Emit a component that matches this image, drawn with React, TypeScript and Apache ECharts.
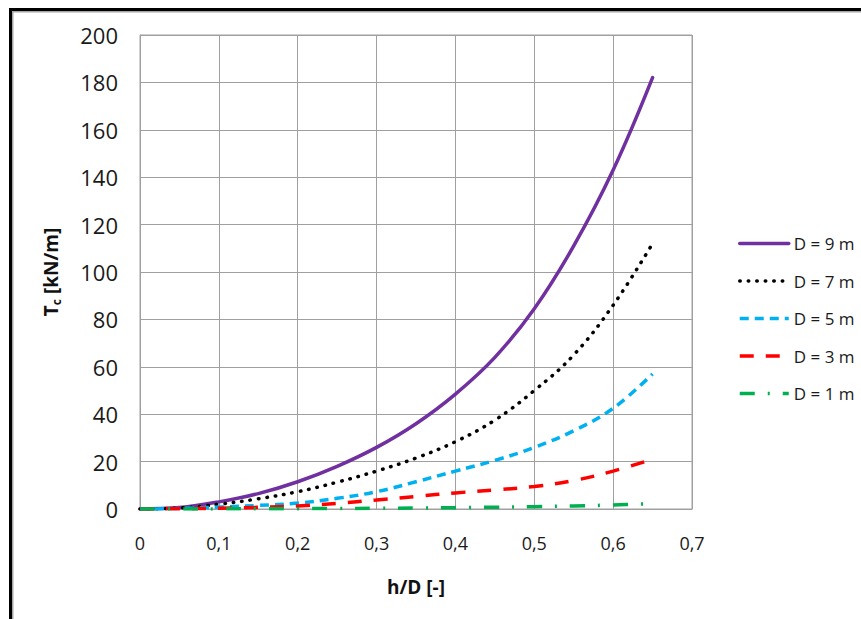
import React, { useEffect, useRef } from "react";
import * as echarts from "echarts";

const hd = [0, 0.05, 0.1, 0.15, 0.2, 0.25, 0.3, 0.35, 0.4, 0.45, 0.5, 0.55, 0.6, 0.65];
const d9 = [0, 0.6, 3, 6.5, 11.5, 18, 26, 36, 48.5, 64, 84.5, 111, 143, 182];
const d7 = [0, 0.4, 2, 4.3, 7.3, 11.3, 16, 21.5, 28.4, 37.5, 50, 65, 86, 112];
const d5 = [0, 0.2, 0.8, 1.5, 2.5, 4.5, 7.3, 11.5, 16, 20.5, 26, 33, 42.5, 57];
const d3 = [0, 0.1, 0.3, 0.7, 1.3, 2.4, 3.8, 5.3, 6.8, 8, 9.5, 12, 16, 21];
const d1 = [0, 0, 0.05, 0.1, 0.15, 0.2, 0.3, 0.4, 0.55, 0.75, 1, 1.3, 1.7, 2.3];
const seriesNames = ["D = 9 m", "D = 7 m", "D = 5 m", "D = 3 m", "D = 1 m"];
const xTicks = [0, 0.1, 0.2, 0.3, 0.4, 0.5, 0.6, 0.7];

const FONT = "'Open Sans', 'Noto Sans', sans-serif";

export default function App() {
  const ref = useRef<HTMLDivElement>(null);
  useEffect(() => {
    if (!ref.current) return;
    const chart = echarts.init(ref.current, undefined, { renderer: "svg" });
    const pairs = (ys: number[]) => hd.map((x, i) => [x, ys[i]]);
    const mk = (name: string, ys: number[], color: string, type: any, cap: string, width: number) => ({
      name,
      type: "line",
      data: pairs(ys),
      smooth: 0.4,
      symbol: "none",
      lineStyle: { color, type, cap, width },
      itemStyle: { color },
    });
    chart.setOption({
      animation: false,
      backgroundColor: "#ffffff",
      textStyle: { fontFamily: FONT },
      grid: { left: 140, right: 169, top: 35, bottom: 110, show: true, borderColor: "#A0A0A0", borderWidth: 1 },
      legend: {
        orient: "vertical",
        left: 733,
        top: 230,
        itemWidth: 49,
        itemHeight: 14,
        itemGap: 20.5,
        itemStyle: { opacity: 0 },
        lineStyle: { width: 3.5 },
        textStyle: { fontFamily: FONT, fontSize: 17, color: "#1a1a1a" },
        data: seriesNames,
      },
      xAxis: {
        type: "value",
        min: 0,
        max: 0.7,
        interval: 0.1,
        name: "h/D [-]",
        nameLocation: "middle",
        nameGap: 68,
        nameTextStyle: { fontFamily: FONT, fontSize: 19, fontWeight: "bold", color: "#111" },
        axisLine: { show: true, lineStyle: { color: "#A0A0A0", width: 1 } },
        axisTick: { show: false },
        axisLabel: {
          fontFamily: FONT,
          fontSize: 18,
          color: "#1a1a1a",
          margin: 25,
          formatter: (v: number) => {
            const t = xTicks.find((k) => Math.abs(k - v) < 1e-9);
            return t === undefined ? "" : String(t).replace(".", ",");
          },
        },
        splitLine: { show: true, lineStyle: { color: "#A0A0A0", width: 1 } },
      },
      yAxis: {
        type: "value",
        min: 0,
        max: 200,
        interval: 20,
        name: "{b|T}{s|c}{b| [kN/m]}",
        nameLocation: "middle",
        nameGap: 78,
        nameTextStyle: {
          rich: {
            b: { fontFamily: FONT, fontSize: 19, fontWeight: "bold", color: "#111" },
            s: { fontFamily: FONT, fontSize: 12, fontWeight: "bold", color: "#111", padding: [10, 0, 0, 0] },
          },
        },
        axisLine: { show: true, lineStyle: { color: "#A0A0A0", width: 1 } },
        axisTick: { show: false },
        axisLabel: { fontFamily: FONT, fontSize: 22, color: "#1a1a1a", margin: 22 },
        splitLine: { show: true, lineStyle: { color: "#A0A0A0", width: 1 } },
      },
      graphic: [
        { type: "rect", shape: { x: 9, y: 8, width: 852, height: 3 }, style: { fill: "#000" }, z: 100 },
        { type: "rect", shape: { x: 12, y: 11, width: 849, height: 1.5 }, style: { fill: "#a6a6a6" }, z: 100 },
        { type: "rect", shape: { x: 9, y: 8, width: 3, height: 611 }, style: { fill: "#000" }, z: 100 },
        { type: "rect", shape: { x: 12, y: 11, width: 1.5, height: 608 }, style: { fill: "#a6a6a6" }, z: 100 },
      ],
      series: [
        mk(seriesNames[0], d9, "#7030A0", "solid", "round", 3.5),
        mk(seriesNames[1], d7, "#000000", [0.5, 8], "round", 3.5),
        mk(seriesNames[2], d5, "#00B0F0", [9, 6], "butt", 3.5),
        mk(seriesNames[3], d3, "#FF0000", [14, 12], "butt", 3.5),
        mk(seriesNames[4], d1, "#00B050", [15, 13, 2, 13], "butt", 3.5),
      ],
    });
    return () => chart.dispose();
  }, []);
  return (
    <div
      ref={ref}
      style={{ position: "fixed", left: 0, top: 0, width: 861, height: 619, background: "#fff" }}
    />
  );
}
